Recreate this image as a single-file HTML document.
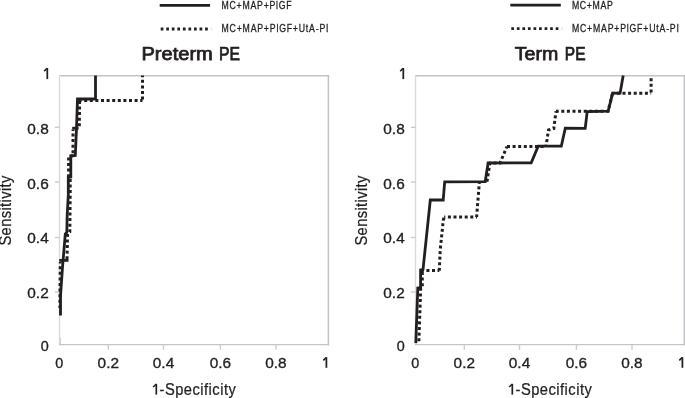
<!DOCTYPE html>
<html><head><meta charset="utf-8"><style>
html,body{margin:0;padding:0;background:#fff;}
body{width:685px;height:398px;overflow:hidden;}
svg{display:block;will-change:transform;}
text{font-family:"Liberation Sans",sans-serif;fill:#231f20;}
.tk{font-size:15.3px;stroke:#231f20;stroke-width:0.35px;}
.ax{font-size:16.3px;stroke:#231f20;stroke-width:0.25px;}
.tt{font-size:17.8px;font-weight:normal;stroke:#231f20;stroke-width:0.75px;}
.lg{font-size:10.9px;stroke:#231f20;stroke-width:0.3px;}
</style></head><body>
<svg width="685" height="398" viewBox="0 0 685 398">
<rect width="685" height="398" fill="#fff"/>
<line x1="59.5" y1="75.8" x2="329.1" y2="75.8" stroke="#c2c3c7" stroke-width="1.5"/>
<line x1="328.4" y1="75.1" x2="328.4" y2="345.4" stroke="#c0c2c6" stroke-width="1.5"/>
<line x1="58.9" y1="344.6" x2="329.1" y2="344.6" stroke="#c4c5c8" stroke-width="1.45"/>
<line x1="60.1" y1="337.8" x2="60.1" y2="344" stroke="#c9cacd" stroke-width="1.7"/>
<line x1="59.5" y1="75.1" x2="59.5" y2="344" stroke="#d9dadd" stroke-width="1.4"/>
<line x1="108.3" y1="344.6" x2="108.3" y2="349.8" stroke="#cbccd0" stroke-width="1.4"/>
<line x1="163.5" y1="344.6" x2="163.5" y2="349.8" stroke="#cbccd0" stroke-width="1.4"/>
<line x1="220.4" y1="344.6" x2="220.4" y2="349.8" stroke="#cbccd0" stroke-width="1.4"/>
<line x1="276" y1="344.6" x2="276" y2="349.8" stroke="#cbccd0" stroke-width="1.4"/>
<line x1="54.8" y1="127.3" x2="59.5" y2="127.3" stroke="#cbccd0" stroke-width="1.4" transform="translate(0,0)"/>
<line x1="54.8" y1="182" x2="59.5" y2="182" stroke="#cbccd0" stroke-width="1.4" transform="translate(0,0)"/>
<line x1="54.8" y1="237.5" x2="59.5" y2="237.5" stroke="#cbccd0" stroke-width="1.4" transform="translate(0,0)"/>
<line x1="54.8" y1="292" x2="59.5" y2="292" stroke="#cbccd0" stroke-width="1.4" transform="translate(0,0)"/>
<line x1="415.5" y1="75.8" x2="685.1" y2="75.8" stroke="#c2c3c7" stroke-width="1.5"/>
<line x1="684.4" y1="75.1" x2="684.4" y2="345.4" stroke="#c0c2c6" stroke-width="1.5"/>
<line x1="414.9" y1="344.6" x2="685.1" y2="344.6" stroke="#c4c5c8" stroke-width="1.45"/>
<line x1="416.1" y1="337.8" x2="416.1" y2="344" stroke="#c9cacd" stroke-width="1.7"/>
<line x1="415.5" y1="75.1" x2="415.5" y2="344" stroke="#d9dadd" stroke-width="1.4"/>
<line x1="464.3" y1="344.6" x2="464.3" y2="349.8" stroke="#cbccd0" stroke-width="1.4"/>
<line x1="519.5" y1="344.6" x2="519.5" y2="349.8" stroke="#cbccd0" stroke-width="1.4"/>
<line x1="576.4" y1="344.6" x2="576.4" y2="349.8" stroke="#cbccd0" stroke-width="1.4"/>
<line x1="632" y1="344.6" x2="632" y2="349.8" stroke="#cbccd0" stroke-width="1.4"/>
<line x1="54.8" y1="127.3" x2="59.5" y2="127.3" stroke="#cbccd0" stroke-width="1.4" transform="translate(356,0)"/>
<line x1="54.8" y1="182" x2="59.5" y2="182" stroke="#cbccd0" stroke-width="1.4" transform="translate(356,0)"/>
<line x1="54.8" y1="237.5" x2="59.5" y2="237.5" stroke="#cbccd0" stroke-width="1.4" transform="translate(356,0)"/>
<line x1="54.8" y1="292" x2="59.5" y2="292" stroke="#cbccd0" stroke-width="1.4" transform="translate(356,0)"/>
<text x="59.3" y="367.7" class="tk" text-anchor="middle" textLength="8.0" lengthAdjust="spacingAndGlyphs">0</text>
<text x="108.3" y="367.7" class="tk" text-anchor="middle" textLength="21.4" lengthAdjust="spacingAndGlyphs">0.2</text>
<text x="163.5" y="367.7" class="tk" text-anchor="middle" textLength="21.4" lengthAdjust="spacingAndGlyphs">0.4</text>
<text x="220.4" y="367.7" class="tk" text-anchor="middle" textLength="21.4" lengthAdjust="spacingAndGlyphs">0.6</text>
<text x="275.9" y="367.7" class="tk" text-anchor="middle" textLength="21.4" lengthAdjust="spacingAndGlyphs">0.8</text>
<path d="M323.3,360.4 L326.1,357.6" stroke="#231f20" stroke-width="1.55" fill="none"/>
<path d="M326.4,357.2 V367.8" stroke="#231f20" stroke-width="1.75" fill="none"/>
<path d="M44.2,71.2 L47,68.4" stroke="#231f20" stroke-width="1.55" fill="none"/>
<path d="M47.3,68 V79.1" stroke="#231f20" stroke-width="1.75" fill="none"/>
<text x="48.7" y="133.9" class="tk" text-anchor="end" textLength="21.4" lengthAdjust="spacingAndGlyphs">0.8</text>
<text x="48.7" y="189.4" class="tk" text-anchor="end" textLength="21.4" lengthAdjust="spacingAndGlyphs">0.6</text>
<text x="48.7" y="242.9" class="tk" text-anchor="end" textLength="21.4" lengthAdjust="spacingAndGlyphs">0.4</text>
<text x="48.7" y="297.9" class="tk" text-anchor="end" textLength="21.4" lengthAdjust="spacingAndGlyphs">0.2</text>
<text x="48.7" y="351.3" class="tk" text-anchor="end" textLength="8.0" lengthAdjust="spacingAndGlyphs">0</text>
<path d="M153.2,387 L156,384.2" stroke="#231f20" stroke-width="1.5" fill="none"/>
<path d="M156.3,383.8 V394.6" stroke="#231f20" stroke-width="1.7" fill="none"/>
<text transform="translate(159.6,394.6) scale(0.9,1)" class="ax" textLength="84.67" lengthAdjust="spacing">-Specificity</text>
<text transform="translate(11.3,245.6) rotate(-90) scale(0.9,1)" class="ax" textLength="77.78" lengthAdjust="spacing">Sensitivity</text>
<text x="415.3" y="367.7" class="tk" text-anchor="middle" textLength="8.0" lengthAdjust="spacingAndGlyphs">0</text>
<text x="464.3" y="367.7" class="tk" text-anchor="middle" textLength="21.4" lengthAdjust="spacingAndGlyphs">0.2</text>
<text x="519.5" y="367.7" class="tk" text-anchor="middle" textLength="21.4" lengthAdjust="spacingAndGlyphs">0.4</text>
<text x="576.4" y="367.7" class="tk" text-anchor="middle" textLength="21.4" lengthAdjust="spacingAndGlyphs">0.6</text>
<text x="631.9" y="367.7" class="tk" text-anchor="middle" textLength="21.4" lengthAdjust="spacingAndGlyphs">0.8</text>
<path d="M679.3,360.4 L682.1,357.6" stroke="#231f20" stroke-width="1.55" fill="none"/>
<path d="M682.4,357.2 V367.8" stroke="#231f20" stroke-width="1.75" fill="none"/>
<path d="M400.2,71.2 L403,68.4" stroke="#231f20" stroke-width="1.55" fill="none"/>
<path d="M403.3,68 V79.1" stroke="#231f20" stroke-width="1.75" fill="none"/>
<text x="404.7" y="133.9" class="tk" text-anchor="end" textLength="21.4" lengthAdjust="spacingAndGlyphs">0.8</text>
<text x="404.7" y="189.4" class="tk" text-anchor="end" textLength="21.4" lengthAdjust="spacingAndGlyphs">0.6</text>
<text x="404.7" y="242.9" class="tk" text-anchor="end" textLength="21.4" lengthAdjust="spacingAndGlyphs">0.4</text>
<text x="404.7" y="297.9" class="tk" text-anchor="end" textLength="21.4" lengthAdjust="spacingAndGlyphs">0.2</text>
<text x="404.7" y="351.3" class="tk" text-anchor="end" textLength="8.0" lengthAdjust="spacingAndGlyphs">0</text>
<path d="M509.2,387 L512,384.2" stroke="#231f20" stroke-width="1.5" fill="none"/>
<path d="M512.3,383.8 V394.6" stroke="#231f20" stroke-width="1.7" fill="none"/>
<text transform="translate(515.6,394.6) scale(0.9,1)" class="ax" textLength="84.67" lengthAdjust="spacing">-Specificity</text>
<text transform="translate(367.3,245.6) rotate(-90) scale(0.9,1)" class="ax" textLength="77.78" lengthAdjust="spacing">Sensitivity</text>
<text x="141.5" y="60.0" class="tt" textLength="71.3" lengthAdjust="spacingAndGlyphs">Preterm</text>
<text x="219.0" y="60.0" class="tt" textLength="21" lengthAdjust="spacingAndGlyphs">PE</text>
<text x="514.8" y="59.7" class="tt" textLength="43.5" lengthAdjust="spacingAndGlyphs">Term</text>
<text x="564.8" y="59.7" class="tt" textLength="20.7" lengthAdjust="spacingAndGlyphs">PE</text>
<line x1="159.7" y1="5.4" x2="210.1" y2="5.4" stroke="#231f20" stroke-width="2.8"/>
<line x1="160.7" y1="29" x2="210.4" y2="29" stroke="#231f20" stroke-width="2.8" stroke-dasharray="2.7 2.85"/>
<text transform="translate(221.5,8.5) scale(0.8,1)" class="lg" textLength="87.75" lengthAdjust="spacing">MC+MAP+PlGF</text>
<text transform="translate(221.5,32.1) scale(0.8,1)" class="lg" textLength="133.75" lengthAdjust="spacing">MC+MAP+PlGF+UtA-PI</text>
<rect x="210.7" y="27.5" width="1.5" height="3" fill="#e9e9e9"/>
<line x1="510.3" y1="5.1" x2="560.8" y2="5.1" stroke="#231f20" stroke-width="2.8"/>
<line x1="511.3" y1="28.6" x2="561.1" y2="28.6" stroke="#231f20" stroke-width="2.8" stroke-dasharray="2.7 2.85"/>
<text transform="translate(571.9,8.5) scale(0.8,1)" class="lg" textLength="51.25" lengthAdjust="spacing">MC+MAP</text>
<text transform="translate(571.9,32.1) scale(0.8,1)" class="lg" textLength="133.75" lengthAdjust="spacing">MC+MAP+PlGF+UtA-PI</text>
<rect x="561.2" y="27.1" width="1.5" height="3" fill="#e9e9e9"/>
<polyline points="59.9,308 60,290 60.3,261.9" fill="none" stroke="#231f20" stroke-width="3.0" stroke-linejoin="miter" stroke-miterlimit="3" stroke-dasharray="3.0 2.6" stroke-dashoffset="0.4"/>
<polyline points="67,260.4 67.5,234 69.8,232 70.2,195 70.2,178 68.6,177 68.6,156 73,155.7 73,129.6" fill="none" stroke="#231f20" stroke-width="3.0" stroke-linejoin="miter" stroke-miterlimit="3" stroke-dasharray="3.0 2.6" stroke-dashoffset="4.45"/>
<polyline points="79.3,128 79.6,100.4" fill="none" stroke="#231f20" stroke-width="3.0" stroke-linejoin="miter" stroke-miterlimit="3" stroke-dasharray="3.0 2.6" stroke-dashoffset="3.9"/>
<polyline points="78.76,100.4 142.5,100.4" fill="none" stroke="#231f20" stroke-width="3.0" stroke-linejoin="miter" stroke-miterlimit="3" stroke-dasharray="3.0 2.6" stroke-dashoffset="0.16"/>
<polyline points="142.5,100.4 142.5,75.5" fill="none" stroke="#231f20" stroke-width="3.0" stroke-linejoin="miter" stroke-miterlimit="3" stroke-dasharray="3.0 2.6" stroke-dashoffset="4.8"/>
<polyline points="60.5,315.5 60.5,296 62.6,266 64.8,240 65.3,234 66.8,232.5 67.2,215 68.3,195 68.3,177.5 70.8,177 70.8,156 75.3,155.5 76.5,128 77.5,99 95.5,99 95.5,75.5" fill="none" stroke="#231f20" stroke-width="2.8" stroke-linejoin="miter" stroke-miterlimit="3"/>
<line x1="59.2" y1="260.4" x2="68.5" y2="260.4" stroke="#231f20" stroke-width="2.8"/>
<line x1="72.2" y1="128.2" x2="78.6" y2="128.2" stroke="#231f20" stroke-width="2.8"/>
<polyline points="418.8,343 420.3,300 420.6,289 422.3,288 422.3,270.6" fill="none" stroke="#231f20" stroke-width="3.0" stroke-linejoin="miter" stroke-miterlimit="3" stroke-dasharray="3.0 2.6" stroke-dashoffset="3.79"/>
<polyline points="421,270.6 439.3,270.6" fill="none" stroke="#231f20" stroke-width="3.0" stroke-linejoin="miter" stroke-miterlimit="3" stroke-dasharray="3.0 2.6" stroke-dashoffset="0.2"/>
<polyline points="439.3,270.6 440.2,250 443.3,220 444.2,217" fill="none" stroke="#231f20" stroke-width="3.0" stroke-linejoin="miter" stroke-miterlimit="3" stroke-dasharray="3.0 2.6" stroke-dashoffset="0.26"/>
<polyline points="444.2,217 477,217" fill="none" stroke="#231f20" stroke-width="3.0" stroke-linejoin="miter" stroke-miterlimit="3" stroke-dasharray="3.0 2.6" stroke-dashoffset="1.9"/>
<polyline points="476.6,217 479.4,182" fill="none" stroke="#231f20" stroke-width="3.0" stroke-linejoin="miter" stroke-miterlimit="3" stroke-dasharray="3.0 2.6" stroke-dashoffset="0.27"/>
<polyline points="487,181.7 489.7,164 490,163.1 500,163.1 507,146.5" fill="none" stroke="#231f20" stroke-width="3.0" stroke-linejoin="miter" stroke-miterlimit="3" stroke-dasharray="3.0 2.6" stroke-dashoffset="0.07"/>
<polyline points="507,146.5 546,146.5" fill="none" stroke="#231f20" stroke-width="3.0" stroke-linejoin="miter" stroke-miterlimit="3" stroke-dasharray="3.0 2.6" stroke-dashoffset="5.6"/>
<polyline points="546,146.5 548.5,130 553.8,128.5 556,111.3" fill="none" stroke="#231f20" stroke-width="3.0" stroke-linejoin="miter" stroke-miterlimit="3" stroke-dasharray="3.0 2.6" stroke-dashoffset="1.16"/>
<polyline points="556,111.3 608,111.3 612.6,93.2" fill="none" stroke="#231f20" stroke-width="3.0" stroke-linejoin="miter" stroke-miterlimit="3" stroke-dasharray="3.0 2.6" stroke-dashoffset="0.3"/>
<polyline points="612.6,93.2 651.1,93.2" fill="none" stroke="#231f20" stroke-width="3.0" stroke-linejoin="miter" stroke-miterlimit="3" stroke-dasharray="3.0 2.6" stroke-dashoffset="1.3"/>
<polyline points="651.1,93.2 651.1,77" fill="none" stroke="#231f20" stroke-width="3.0" stroke-linejoin="miter" stroke-miterlimit="3" stroke-dasharray="3.0 2.6" stroke-dashoffset="4.8"/>
<polyline points="415.8,343 417.8,288 420.6,287.7 420.6,270 423,269.6 430.3,200 443.2,200 444.7,181.8 485.2,181.7 488.1,163 531.2,162.9 538.2,146.2 561.3,146.2 565.3,128.2 585.2,128.3 587.2,111.6 608.2,111.2 612.6,93.1 620.1,93.2 623.2,75.5" fill="none" stroke="#231f20" stroke-width="2.8" stroke-linejoin="miter" stroke-miterlimit="3"/>
</svg>
</body></html>
